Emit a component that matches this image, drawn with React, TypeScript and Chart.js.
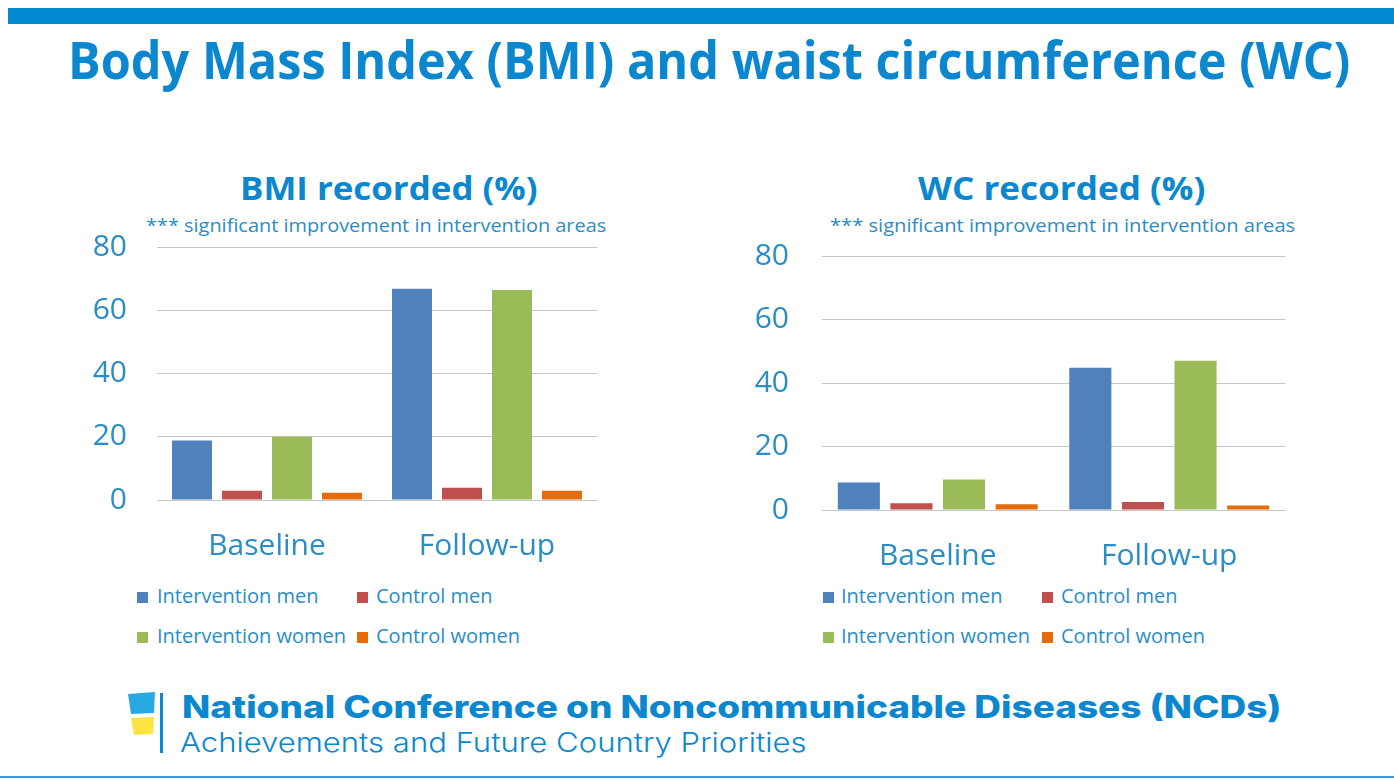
import React, { useEffect, useLayoutEffect, useRef, useState } from "react";
import { Chart, registerables } from "chart.js";

Chart.register(...registerables);

// ---------- data ----------
const categories = ["Baseline", "Follow-up"];
const seriesNames = ["Intervention men", "Control men", "Intervention women", "Control women"];
const seriesColors = ["#4f81bd", "#c0504d", "#9bbb59", "#e46c0a"];

const bmiInterventionMen = [18.8, 66.8];
const bmiControlMen = [2.9, 3.9];
const bmiInterventionWomen = [20.0, 66.4];
const bmiControlWomen = [2.3, 2.9];

const wcInterventionMen = [8.7, 44.8];
const wcControlMen = [2.1, 2.5];
const wcInterventionWomen = [9.6, 47.0];
const wcControlWomen = [1.8, 1.4];

const yTicks = [0, 20, 40, 60, 80];

const pageTitle = "Body Mass Index (BMI) and waist circumference (WC)";
const bmiTitle = "BMI recorded (%)";
const wcTitle = "WC recorded (%)";
const noteText = "*** significant improvement in intervention areas";
const footerTitle = "National Conference on Noncommunicable Diseases (NCDs)";
const footerSub = "Achievements and Future Country Priorities";

// ---------- styles ----------
const FONT = "'Open Sans', 'Noto Sans', sans-serif";
const TITLE_BLUE = "#0a87cf";
const TEXT_BLUE = "#2a8dc6";
const GRID = "#c6c6c6";

type FitProps = {
  text: string;
  left: number;
  top: number;
  width: number;
  size: number;
  weight?: number;
  family?: string;
  color: string;
};

function FitText({ text, left, top, width, size, weight = 400, family = FONT, color }: FitProps) {
  const ref = useRef<HTMLSpanElement>(null);
  const [sx, setSx] = useState(1);
  useLayoutEffect(() => {
    if (ref.current) {
      const w = ref.current.offsetWidth;
      if (w > 0) setSx(width / w);
    }
  }, [text, width, size]);
  return (
    <span
      ref={ref}
      style={{
        position: "absolute",
        left,
        top,
        whiteSpace: "nowrap",
        fontFamily: family,
        fontSize: size,
        fontWeight: weight,
        color,
        lineHeight: 1,
        transform: `scaleX(${sx})`,
        transformOrigin: "left top",
      }}
    >
      {text}
    </span>
  );
}

type Geo = {
  left: number;
  top: number;
  width: number;
  height: number;
  padTop: number;
  padRight: number;
  yWidth: number;
  xHeight: number;
  yPad: number;
  xPad: number;
};

function BarChart({ values, geo }: { values: number[][]; geo: Geo }) {
  const ref = useRef<HTMLCanvasElement>(null);
  useEffect(() => {
    if (!ref.current) return;
    const chart = new Chart(ref.current, {
      type: "bar",
      data: {
        labels: categories,
        datasets: seriesNames.map((n, i) => ({
          label: n,
          data: values[i],
          backgroundColor: seriesColors[i],
          borderWidth: 0,
          categoryPercentage: 0.909,
          barPercentage: 0.8,
        })),
      },
      options: {
        animation: false,
        responsive: false,
        maintainAspectRatio: false,
        layout: { padding: { top: geo.padTop, right: geo.padRight, left: 0, bottom: 0 } },
        plugins: {
          legend: { display: false },
          title: { display: false },
          tooltip: { enabled: false },
        },
        scales: {
          x: {
            grid: { display: false, drawTicks: false },
            border: { display: true, color: GRID },
            ticks: { font: { family: FONT, size: 30 }, color: TEXT_BLUE, padding: geo.xPad },
            afterFit: (s: any) => {
              s.height = geo.xHeight;
            },
          },
          y: {
            min: 0,
            max: 80,
            grid: { color: GRID, drawTicks: false, lineWidth: 1 },
            border: { display: false },
            ticks: { font: { family: FONT, size: 30 }, color: TEXT_BLUE, padding: geo.yPad },
            afterBuildTicks: (s: any) => {
              s.ticks = yTicks.map((v) => ({ value: v }));
            },
            afterFit: (s: any) => {
              s.width = geo.yWidth;
              s.paddingTop = 0;
              s.paddingBottom = 0;
            },
          },
        },
      },
    });
    return () => chart.destroy();
  }, []);
  return (
    <canvas
      ref={ref}
      width={geo.width}
      height={geo.height}
      style={{ position: "absolute", left: geo.left, top: geo.top, width: geo.width, height: geo.height }}
    />
  );
}

function Legend({ x1, x2, sq1, sq2, y1, y2 }: { x1: number; x2: number; sq1: number; sq2: number; y1: number; y2: number }) {
  const items = [
    { i: 0, sx: sq1, tx: x1, y: y1 },
    { i: 1, sx: sq2, tx: x2, y: y1 },
    { i: 2, sx: sq1, tx: x1, y: y2 },
    { i: 3, sx: sq2, tx: x2, y: y2 },
  ];
  return (
    <>
      {items.map((it) => (
        <React.Fragment key={it.i}>
          <div
            style={{
              position: "absolute",
              left: it.sx,
              top: it.y - 5,
              width: 11,
              height: 11,
              background: seriesColors[it.i],
            }}
          />
          <span
            style={{
              position: "absolute",
              left: it.tx,
              top: it.y - 11,
              fontFamily: FONT,
              fontSize: 20,
              lineHeight: 1,
              color: TEXT_BLUE,
              whiteSpace: "nowrap",
            }}
          >
            {seriesNames[it.i]}
          </span>
        </React.Fragment>
      ))}
    </>
  );
}

export default function App() {
  const bmiGeo: Geo = {
    left: 80,
    top: 225,
    width: 540,
    height: 345,
    padTop: 22,
    padRight: 23,
    yWidth: 77,
    xHeight: 70,
    yPad: 30,
    xPad: 28,
  };
  const wcGeo: Geo = {
    left: 745,
    top: 234,
    width: 560,
    height: 346,
    padTop: 22,
    padRight: 20,
    yWidth: 77,
    xHeight: 70,
    yPad: 33,
    xPad: 28,
  };
  return (
    <div
      style={{
        position: "absolute",
        left: 0,
        top: 0,
        width: 1394,
        height: 780,
        background: "#ffffff",
        overflow: "hidden",
      }}
    >
      {/* top bar */}
      <div style={{ position: "absolute", left: 8, top: 8, width: 1386, height: 16, background: "#0288d1" }} />
      <FitText text={pageTitle} left={68} top={33} width={1282} size={52} weight={700} color={TITLE_BLUE} />

      {/* BMI */}
      <FitText text={bmiTitle} left={240} top={171} width={298} size={33} weight={700} color={TITLE_BLUE} />
      <FitText text={noteText} left={146} top={216} width={460} size={19} color={TEXT_BLUE} />
      <BarChart
        values={[bmiInterventionMen, bmiControlMen, bmiInterventionWomen, bmiControlWomen]}
        geo={bmiGeo}
      />
      <Legend sq1={137} x1={157} sq2={357} x2={376} y1={597} y2={637} />

      {/* WC */}
      <FitText text={wcTitle} left={918} top={171} width={287} size={33} weight={700} color={TITLE_BLUE} />
      <FitText text={noteText} left={830} top={216} width={465} size={19} color={TEXT_BLUE} />
      <BarChart
        values={[wcInterventionMen, wcControlMen, wcInterventionWomen, wcControlWomen]}
        geo={wcGeo}
      />
      <Legend sq1={823} x1={841} sq2={1042} x2={1061} y1={597} y2={637} />

      {/* footer */}
      <svg style={{ position: "absolute", left: 0, top: 680 }} width={200} height={90}>
        <polygon points="128,14 155,12 154,33 131,34" fill="#29a9e1" />
        <polygon points="131,38 154,37 153,54 134,55" fill="#fde443" />
        <rect x={160} y={13} width={3} height={60} fill="#0a8ad0" />
      </svg>
      <FitText
        text={footerTitle}
        left={182}
        top={691}
        width={1100}
        size={31}
        weight={800}
        family="Inter, 'Open Sans', sans-serif"
        color={TITLE_BLUE}
      />
      <FitText
        text={footerSub}
        left={180}
        top={729}
        width={627}
        size={27}
        weight={300}
        family="Inter, 'Open Sans', sans-serif"
        color={TITLE_BLUE}
      />
      <div style={{ position: "absolute", left: 0, top: 776, width: 1394, height: 2, background: "#3a9ad9" }} />
    </div>
  );
}
